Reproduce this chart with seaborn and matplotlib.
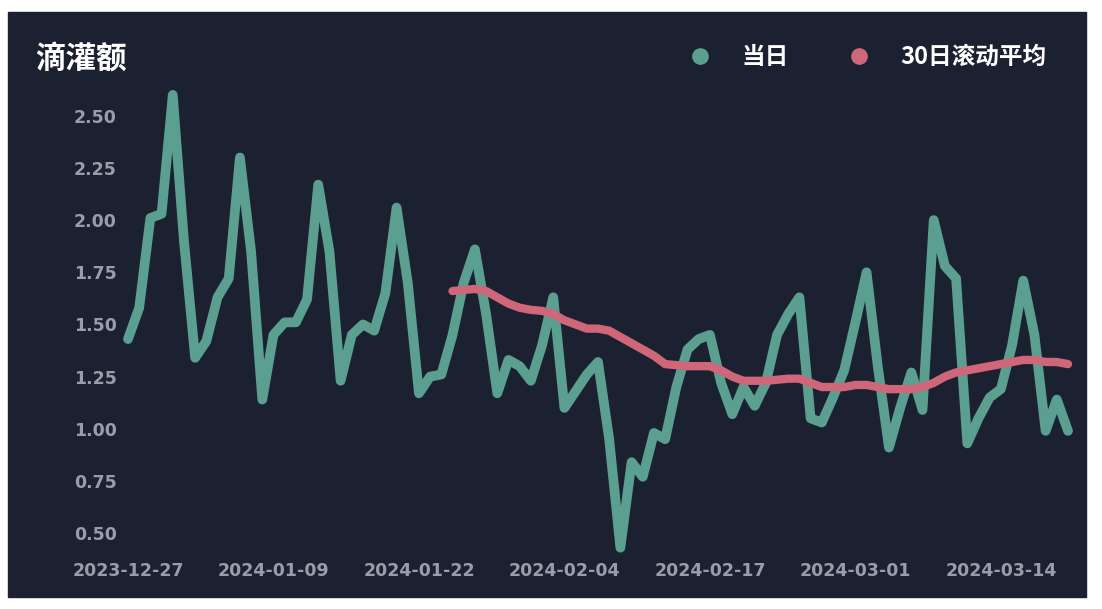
import pandas as pd
import numpy as np
import matplotlib
matplotlib.use("Agg")
import matplotlib.pyplot as plt
import matplotlib.dates as mdates
from matplotlib.patches import Rectangle
from matplotlib.lines import Line2D
import seaborn as sns

# colours
BG = "#1c2131"
GREEN = "#5a9f90"
RED = "#cf6679"
TICK = "#9a9ca8"

# data (daily, 2023-12-27 .. 2024-03-20)
dates = pd.date_range("2023-12-27", "2024-03-20", freq="D")
daily = [
    1.43, 1.58, 2.01, 2.03, 2.60, 1.90, 1.34, 1.42, 1.63, 1.72,
    2.30, 1.85, 1.14, 1.45, 1.51, 1.51, 1.62, 2.17, 1.85, 1.23,
    1.45, 1.50, 1.47, 1.65, 2.06, 1.70, 1.17, 1.25, 1.26, 1.45,
    1.70, 1.86, 1.55, 1.17, 1.33, 1.30, 1.23, 1.40, 1.63, 1.10,
    1.18, 1.26, 1.32, 0.95, 0.43, 0.84, 0.77, 0.98, 0.95, 1.20,
    1.38, 1.43, 1.45, 1.22, 1.07, 1.20, 1.11, 1.22, 1.45, 1.55,
    1.63, 1.05, 1.03, 1.15, 1.28, 1.51, 1.75, 1.30, 0.91, 1.10,
    1.27, 1.09, 2.00, 1.78, 1.72, 0.93, 1.05, 1.15, 1.19, 1.40,
    1.71, 1.45, 0.99, 1.14, 0.99,
]
# 30-day rolling mean, only defined from the 30th day on
rolling = [
    1.66, 1.665, 1.67, 1.66, 1.63, 1.60, 1.58, 1.57, 1.565, 1.55,
    1.52, 1.50, 1.48, 1.48, 1.47, 1.44, 1.41, 1.38, 1.35, 1.31,
    1.305, 1.30, 1.30, 1.30, 1.28, 1.25, 1.23, 1.23, 1.23, 1.235,
    1.24, 1.24, 1.22, 1.20, 1.20, 1.20, 1.21, 1.21, 1.20, 1.19,
    1.19, 1.19, 1.20, 1.22, 1.25, 1.27, 1.28, 1.29, 1.30, 1.31,
    1.32, 1.33, 1.33, 1.32, 1.32, 1.31,
]
labels = ["当日", "30日滚动平均"]
yticks = [0.50, 0.75, 1.00, 1.25, 1.50, 1.75, 2.00, 2.25, 2.50]

df_daily = pd.DataFrame({"date": dates, "value": daily})
df_roll = pd.DataFrame({"date": dates[len(dates) - len(rolling):], "value": rolling})

sns.set_style("dark", {"axes.facecolor": BG, "figure.facecolor": "white"})
plt.rcParams["font.family"] = ["Noto Sans CJK SC", "DejaVu Sans"]

fig = plt.figure(figsize=(11.02, 6.09), dpi=100)
fig.add_artist(Rectangle((8 / 1102, 12 / 609), 1078 / 1102, 585 / 609,
                         transform=fig.transFigure, color=BG, zorder=0))
ax = fig.add_axes([128 / 1102, 1 - 554 / 609, 940 / 1102, 480 / 609])
ax.set_facecolor(BG)

sns.lineplot(data=df_daily, x="date", y="value", color=GREEN, linewidth=7,
             solid_joinstyle="round", solid_capstyle="round", clip_on=False, ax=ax)
sns.lineplot(data=df_roll, x="date", y="value", color=RED, linewidth=6,
             solid_joinstyle="round", solid_capstyle="round", clip_on=False, ax=ax)

ax.set_xlim(dates[0], dates[-1])
ax.set_ylim(0.4, 2.7)
ax.set_xticks(dates[::13])
ax.xaxis.set_major_formatter(mdates.DateFormatter("%Y-%m-%d"))
ax.set_yticks(yticks)
ax.set_yticklabels([f"{v:.2f}" for v in yticks])
ax.tick_params(length=0, colors=TICK, labelsize=12.5)
ax.tick_params(axis="y", pad=8)
ax.tick_params(axis="x", pad=6)
for lbl in ax.get_xticklabels() + ax.get_yticklabels():
    lbl.set_fontweight("bold")
    lbl.set_family("DejaVu Sans")
ax.set_xlabel("")
ax.set_ylabel("")
ax.grid(False)
for s in ax.spines.values():
    s.set_visible(False)

fig.text(35 / 1102, 1 - 60 / 609, "滴灌额", color="white", fontsize=22,
         fontweight="bold", va="center", ha="left")

handles = [Line2D([], [], marker="o", linestyle="", markersize=11,
                  markerfacecolor=c, markeredgecolor=c) for c in (GREEN, RED)]
leg = fig.legend(handles, labels, loc="center left",
                 bbox_to_anchor=(688 / 1102, 1 - 57 / 609), ncol=2,
                 frameon=False, fontsize=17, handlelength=1.0,
                 handletextpad=1.25, columnspacing=2.5, borderpad=0,
                 borderaxespad=0)
for t in leg.get_texts():
    t.set_color("white")
    t.set_fontweight("bold")

fig.savefig("out.png", dpi=100)
